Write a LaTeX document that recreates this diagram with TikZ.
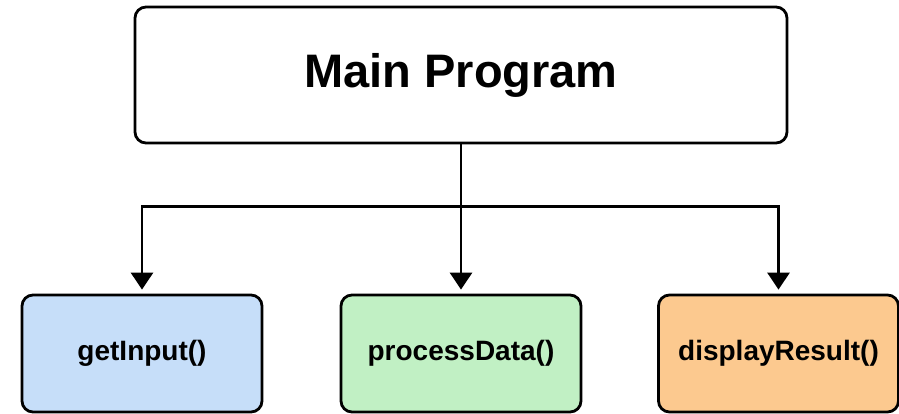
\documentclass[tikz,border=0pt]{standalone}
\usepackage{fontspec}
\setmainfont{Liberation Sans}
\usetikzlibrary{arrows.meta,calc}
\definecolor{inbox}{RGB}{198,222,249}
\definecolor{procbox}{RGB}{193,240,196}
\definecolor{outbox}{RGB}{252,201,143}
\tikzset{
  mainbox/.style={draw=black, line width=2.8pt, rounded corners=11pt, fill=white,
    minimum width=652pt, minimum height=136pt, inner sep=0pt,
    font=\fontsize{47}{50}\selectfont\bfseries},
  funcbox/.style={draw=black, line width=2.8pt, rounded corners=11pt,
    minimum width=240pt, minimum height=117pt, inner sep=0pt,
    font=\fontsize{28}{30}\selectfont\bfseries},
  link/.style={draw=black, line width=2.8pt},
  arrowlink/.style={link, -{Triangle[width=22pt,length=17pt]}, shorten >=4pt}
}
\begin{document}
\begin{tikzpicture}[x=1pt, y=-1pt]
  \useasboundingbox (0,0) rectangle (899,413);
  % caller
  \node[mainbox] (main) at (461,75) {Main Program};
  % called functions
  \node[funcbox, fill=inbox]   (input)   at (142,353.5) {getInput()};
  \node[funcbox, fill=procbox] (process) at (461,353.5) {processData()};
  \node[funcbox, fill=outbox]  (display) at (778.5,353.5) {displayResult()};
  % call tree
  \coordinate (split) at ($(main.south)+(0,62)$);
  \draw[link] (main.south) -- (split);
  \draw[arrowlink] (split) -| (input.north);
  \draw[arrowlink] (main.south) -- (process.north);
  \draw[arrowlink] (split) -| (display.north);
\end{tikzpicture}
\end{document}
